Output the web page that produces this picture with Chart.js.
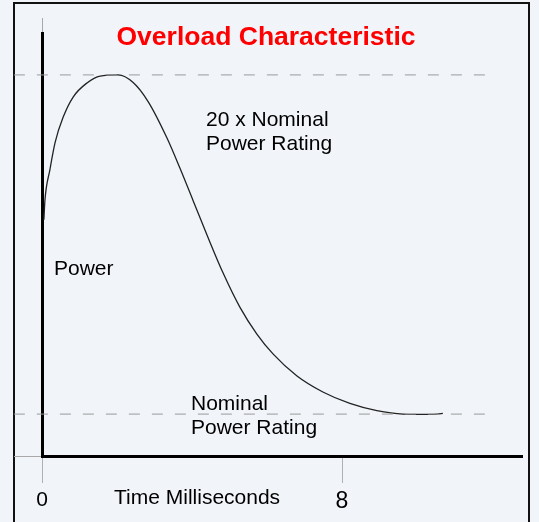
<!DOCTYPE html>
<html>
<head>
<meta charset="utf-8">
<script src="https://cdn.jsdelivr.net/npm/chart.js@4.4.1/dist/chart.umd.min.js"></script>
<style>
  html, body { margin: 0; padding: 0; background: #f1f4f9; }
  #wrap { width: 539px; height: 522px; }
</style>
</head>
<body>
<div id="wrap"><canvas id="overload" width="539" height="522"></canvas></div>
<script>
// Curve: time in ms, power relative to the peak (peak = 100)
const timeMs = [0.05, 0.08, 0.21, 0.35, 0.56, 0.83, 1.20, 1.55, 2.03, 2.43, 2.83, 3.33, 3.68, 4.03, 4.40, 4.83, 5.28, 5.73, 6.16, 6.80, 7.49, 8.21, 8.93, 9.63, 10.35, 10.69];
const power  = [62.0, 67.3, 75.1, 82.3, 88.8, 94.2, 97.9, 99.7, 100, 98.0, 93.0, 83.5, 75.5, 67.0, 58.0, 48.0, 39.0, 32.0, 26.8, 21.0, 16.8, 13.8, 11.9, 11.0, 10.9, 11.2];

// dashed reference levels: 20 x nominal and nominal
const peakLevel = 100;
const nominalLevel = 11;
const guideFrom = -0.75;
const guideTo = 12.13;

const xTicks = [0, 8];
const xMax = 12.8;
const yMax = 111;

const FONT = "'Liberation Sans', Arial, sans-serif";

const decorations = {
  id: 'decorations',
  beforeDraw(chart) {
    const { ctx, chartArea } = chart;
    ctx.save();
    ctx.fillStyle = '#f1f4f9';
    ctx.fillRect(0, 0, chart.width, chart.height);

    // outer frame (no bottom edge in view)
    ctx.strokeStyle = '#111';
    ctx.lineWidth = 2;
    ctx.beginPath();
    ctx.moveTo(14, chart.height);
    ctx.lineTo(14, 3);
    ctx.lineTo(529, 3);
    ctx.lineTo(529, chart.height);
    ctx.stroke();

    // faint stubs of the axes
    ctx.strokeStyle = '#a8a8a8';
    ctx.lineWidth = 1;
    ctx.beginPath();
    ctx.moveTo(14, chartArea.bottom + 0.5);
    ctx.lineTo(chartArea.left, chartArea.bottom + 0.5);
    ctx.moveTo(chartArea.left + 0.5, 18);
    ctx.lineTo(chartArea.left + 0.5, chartArea.top);
    ctx.stroke();
    ctx.restore();
  },
  afterDraw(chart) {
    const { ctx } = chart;
    ctx.save();
    ctx.textBaseline = 'alphabetic';

    ctx.fillStyle = '#ff0000';
    ctx.font = 'bold 26.5px ' + FONT;
    ctx.textAlign = 'center';
    ctx.fillText('Overload Characteristic', 266, 45);

    ctx.textAlign = 'left';
    ctx.fillStyle = '#000';
    ctx.font = '21px ' + FONT;
    ctx.fillText('20 x Nominal', 206, 126);
    ctx.fillText('Power Rating', 206, 150);
    ctx.fillText('Power', 54, 275);
    ctx.fillText('Nominal', 191, 410);
    ctx.fillText('Power Rating', 191, 434);
    ctx.fillText('Time Milliseconds', 114, 504);
    ctx.restore();
  }
};

const curve = timeMs.map((t, i) => ({ x: t, y: power[i] }));
const guide = level => [{ x: guideFrom, y: level }, { x: guideTo, y: level }];

const dashed = {
  borderColor: '#9a9a9a',
  borderWidth: 1,
  borderDash: [11, 12],
  pointRadius: 0,
  clip: false
};

new Chart(document.getElementById('overload'), {
  type: 'line',
  data: {
    datasets: [
      { data: guide(peakLevel), ...dashed },
      { data: guide(nominalLevel), ...dashed },
      {
        data: curve,
        borderColor: '#222',
        borderWidth: 1.3,
        pointRadius: 0,
        cubicInterpolationMode: 'monotone'
      }
    ]
  },
  options: {
    responsive: false,
    animation: false,
    layout: { padding: { left: 42, top: 33, right: 17, bottom: 0 } },
    plugins: {
      legend: { display: false },
      tooltip: { enabled: false }
    },
    scales: {
      x: {
        type: 'linear',
        min: 0,
        max: xMax,
        border: { color: '#000', width: 3 },
        grid: { drawOnChartArea: false, drawTicks: true, tickLength: 27, color: '#b0b0b0', lineWidth: 1 },
        ticks: {
          color: '#000',
          padding: 5,
          font: c => ({ family: FONT, size: c.tick && c.tick.value === 8 ? 23 : 21 })
        },
        afterBuildTicks: s => { s.ticks = xTicks.map(v => ({ value: v })); },
        afterFit: s => { s.height = 66; }
      },
      y: {
        min: 0,
        max: yMax,
        border: { color: '#000', width: 3 },
        grid: { display: false },
        ticks: { display: false },
        afterFit: s => { s.width = 0; }
      }
    }
  },
  plugins: [decorations]
});
</script>
</body>
</html>
